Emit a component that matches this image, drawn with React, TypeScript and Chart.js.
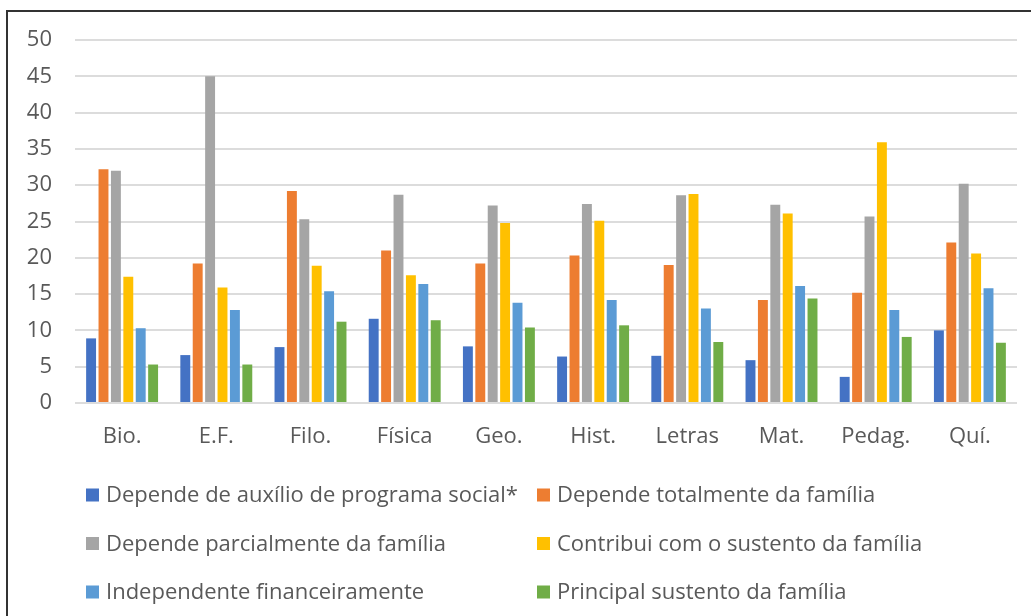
import React, { useEffect, useRef } from "react";
import { Chart, registerables } from "chart.js";

Chart.register(...registerables);

const categories = ["Bio.", "E.F.", "Filo.", "Física", "Geo.", "Hist.", "Letras", "Mat.", "Pedag.", "Quí."];

const seriesNames = [
  "Depende de auxílio de programa social*",
  "Depende totalmente da família",
  "Depende parcialmente da família",
  "Contribui com o sustento da família",
  "Independente financeiramente",
  "Principal sustento da família",
];

const auxilioSocial = [8.9, 6.6, 7.7, 11.6, 7.8, 6.4, 6.5, 5.9, 3.6, 10.0];
const totalmenteFamilia = [32.2, 19.2, 29.2, 21.0, 19.2, 20.3, 19.0, 14.2, 15.2, 22.1];
const parcialmenteFamilia = [32.0, 45.0, 25.3, 28.7, 27.2, 27.4, 28.6, 27.3, 25.7, 30.2];
const contribuiSustento = [17.4, 15.9, 18.9, 17.6, 24.8, 25.1, 28.8, 26.1, 35.9, 20.6];
const independente = [10.3, 12.8, 15.4, 16.4, 13.8, 14.2, 13.0, 16.1, 12.8, 15.8];
const principalSustento = [5.3, 5.3, 11.2, 11.4, 10.4, 10.7, 8.4, 14.4, 9.1, 8.3];

const seriesValues = [auxilioSocial, totalmenteFamilia, parcialmenteFamilia, contribuiSustento, independente, principalSustento];
const seriesColors = ["#4472C4", "#ED7D31", "#A5A5A5", "#FFC000", "#5B9BD5", "#70AD47"];

const yMin = 0;
const yMax = 50;
const yStep = 5;

const FONT = "'Open Sans', Lato, sans-serif";
const FONT_SIZE = 22;
const TEXT_COLOR = "#595959";

const twoColumnLegend = {
  id: "twoColumnLegend",
  afterDraw(chart: any) {
    const ctx = chart.ctx;
    ctx.save();
    ctx.font = `${FONT_SIZE}px ${FONT}`;
    ctx.textBaseline = "middle";
    ctx.textAlign = "left";
    chart.data.datasets.forEach((ds: any, i: number) => {
      const col = i % 2;
      const row = Math.floor(i / 2);
      const x = col === 0 ? 86 : 537;
      const y = 495 + row * 48.5;
      ctx.fillStyle = ds.backgroundColor;
      ctx.fillRect(x, y - 6.5, 13, 13);
      ctx.fillStyle = TEXT_COLOR;
      ctx.fillText(ds.label, x + 20, y + 1);
    });
    ctx.restore();
  },
};

export default function App() {
  const canvasRef = useRef<HTMLCanvasElement | null>(null);

  useEffect(() => {
    const canvas = canvasRef.current;
    if (!canvas) return;
    const chart = new Chart(canvas, {
      type: "bar",
      data: {
        labels: categories,
        datasets: seriesNames.map((name, i) => ({
          label: name,
          data: seriesValues[i],
          backgroundColor: seriesColors[i],
          borderWidth: 0,
          categoryPercentage: 0.79,
          barPercentage: 0.8,
        })),
      },
      options: {
        responsive: false,
        animation: false,
        events: [],
        layout: { padding: { left: 0, right: 14, top: 40, bottom: 153 } },
        plugins: {
          legend: { display: false },
          tooltip: { enabled: false },
          title: { display: false },
        },
        scales: {
          x: {
            grid: { display: false, drawTicks: false },
            border: { display: false },
            ticks: {
              color: TEXT_COLOR,
              font: { family: FONT, size: FONT_SIZE },
              padding: 21,
              maxRotation: 0,
              autoSkip: false,
            },
            afterFit(scale: any) {
              scale.height = 60;
            },
          },
          y: {
            min: yMin,
            max: yMax,
            grid: { color: "#dcdcdc", lineWidth: 2, drawTicks: false },
            border: { display: false },
            ticks: {
              stepSize: yStep,
              color: TEXT_COLOR,
              font: { family: FONT, size: FONT_SIZE },
              padding: 23,
            },
            afterFit(scale: any) {
              scale.width = 75;
            },
          },
        },
      },
      plugins: [twoColumnLegend],
    });
    return () => chart.destroy();
  }, []);

  return (
    <div style={{ position: "fixed", left: 0, top: 0, width: 1031, height: 616, background: "#ffffff", overflow: "hidden" }}>
      <canvas ref={canvasRef} width={1031} height={616} style={{ display: "block" }} />
      <div
        style={{
          position: "absolute",
          left: 6,
          top: 10,
          right: -10,
          bottom: -10,
          borderLeft: "2px solid #333",
          borderTop: "2px solid #333",
          pointerEvents: "none",
        }}
      />
    </div>
  );
}
